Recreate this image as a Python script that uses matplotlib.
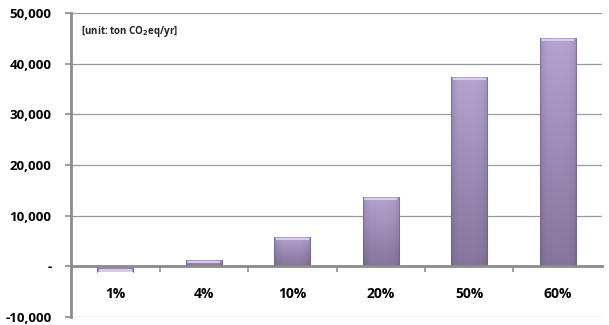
import matplotlib
matplotlib.use("Agg")
import matplotlib.pyplot as plt
import numpy as np
from matplotlib.colors import LinearSegmentedColormap
from matplotlib.ticker import FuncFormatter, FixedLocator

categories = ["1%", "4%", "10%", "20%", "50%", "60%"]
values = [-1200, 1200, 5800, 13700, 37300, 45000]
yticks = [-10000, 0, 10000, 20000, 30000, 40000, 50000]

plt.rcParams["font.family"] = ["Open Sans", "DejaVu Sans"]

fig = plt.figure(figsize=(6.09, 3.25), dpi=100)
ax = fig.add_axes([0.1166, 0.0246, 0.8719, 0.9354])

x = np.arange(len(categories))
width = 0.41
bars = ax.bar(x, values, width=width, color="#a191bb", zorder=3, linewidth=0)

# vertical gradient + shading inside each bar
cmap = LinearSegmentedColormap.from_list("lav", ["#b4a4cf", "#9c8cb6", "#85769c"])
grad = np.linspace(0, 1, 256).reshape(-1, 1)
for b, v in zip(bars, values):
    x0 = b.get_x()
    x1 = x0 + b.get_width()
    lo, hi = min(0, v), max(0, v)
    # horizontal shading: slightly darker toward edges
    h = np.linspace(-1, 1, 64)
    shade = 1 - 0.12 * h ** 4
    img = np.outer(np.linspace(0.0, 1.0, 256), np.ones(64))
    rgba = cmap(img)
    rgba[..., :3] *= shade[None, :, None]
    im = ax.imshow(rgba, extent=(x0, x1, lo, hi), origin="upper" if v > 0 else "lower",
                   aspect="auto", zorder=3, interpolation="bilinear")
    im.set_clip_path(b)
    # top highlight
    cap = (hi - lo) * 0 + 700
    ytop = hi if v > 0 else lo
    ax.fill_between([x0 + 0.02, x1 - 0.02], ytop - np.sign(v) * 600, ytop - np.sign(v) * 150,
                    color="#e4d9f2", alpha=0.8, zorder=4, linewidth=0)
    ax.plot([x0, x0], [lo, hi], color="#6f6386", lw=0.8, zorder=4, alpha=0.6)
    ax.plot([x1, x1], [lo, hi], color="#6f6386", lw=0.8, zorder=4, alpha=0.6)

ax.set_xlim(-0.5, len(categories) - 0.5)
ax.set_ylim(-10000, 50000)

ax.set_yticks(yticks)
ax.yaxis.set_major_formatter(FuncFormatter(lambda v, p: "-" if v == 0 else f"{int(v):,}"))
ax.grid(axis="y", color="#9a9a9a", linewidth=0.9, zorder=0)
ax.tick_params(axis="y", length=4, width=1.2, color="#8c8c8c", pad=10, labelsize=9.5)
for lab in ax.get_yticklabels():
    lab.set_fontweight("bold")

ax.spines["top"].set_visible(False)
ax.spines["right"].set_visible(False)
ax.spines["left"].set_color("#8c8c8c")
ax.spines["left"].set_linewidth(2)
ax.spines["bottom"].set_position(("data", 0))
ax.spines["bottom"].set_color("#8c8c8c")
ax.spines["bottom"].set_linewidth(2)
ax.spines["bottom"].set_zorder(5)

ax.set_xticks(x)
ax.set_xticklabels(categories, fontweight="bold", fontsize=10)
ax.tick_params(axis="x", which="major", length=0, pad=15)
ax.xaxis.set_minor_locator(FixedLocator(np.arange(0.5, len(categories) - 0.5, 1)))
ax.tick_params(axis="x", which="minor", length=4, width=1.2, color="#8c8c8c", direction="out")

ax.text(0.018, 0.965, r"[unit: ton CO$_\mathbf{2}$eq/yr]", transform=ax.transAxes,
        fontsize=7, fontweight="bold", va="top", ha="left", color="#222222")

fig.savefig("out.png", dpi=100)
